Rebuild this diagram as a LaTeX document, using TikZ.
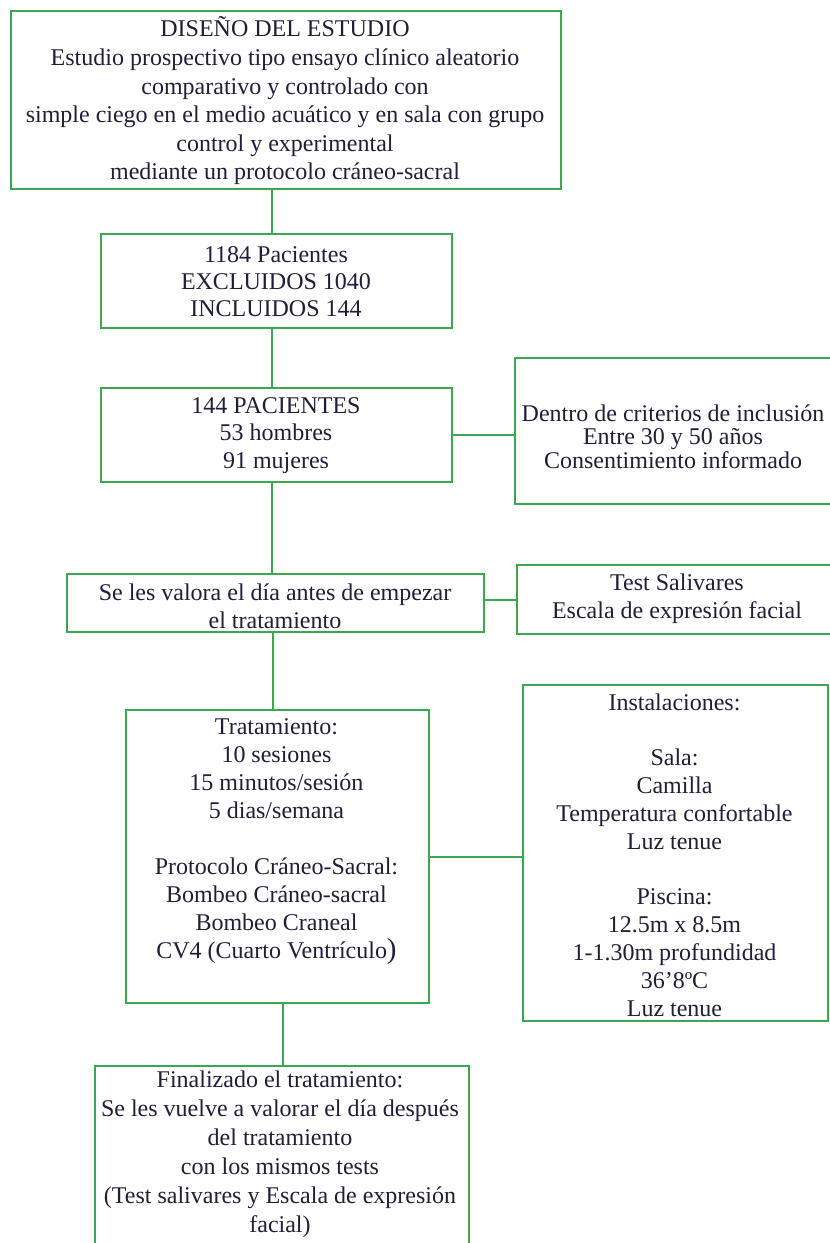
\documentclass[tikz,border=0pt]{standalone}
\usepackage{fontspec}
\setmainfont{Liberation Serif}
\definecolor{frame}{RGB}{58,168,78}
\definecolor{ink}{RGB}{35,30,55}
\begin{document}
\begin{tikzpicture}[x=1pt,y=-1pt,
  box/.style={draw=frame, line width=2.2pt, rectangle, inner sep=0pt, anchor=north west},
  txt/.style={text=ink, align=center, inner sep=0pt, font=\fontsize{24}{#1}\selectfont},
  txt/.default=28,
  link/.style={draw=frame, line width=2.2pt}]
% page area
\clip (0,0) rectangle (830,1243);
\fill[white] (0,0) rectangle (830,1243);

% boxes
\node[box, minimum width=550pt, minimum height=178pt] (b1) at (10,10) {};
\node[box, minimum width=351pt, minimum height=94pt]  (b2) at (100,233) {};
\node[box, minimum width=351pt, minimum height=94pt]  (b3) at (100,387) {};
\node[box, minimum width=320pt, minimum height=146pt] (r1) at (514,357) {};
\node[box, minimum width=417pt, minimum height=58pt]  (b4) at (66,573) {};
\node[box, minimum width=318pt, minimum height=69pt]  (r2) at (516,564) {};
\node[box, minimum width=303pt, minimum height=293pt] (b5) at (125,709) {};
\node[box, minimum width=305pt, minimum height=336pt] (r3) at (522,684) {};
\node[box, minimum width=374pt, minimum height=190pt] (b6) at (94,1065) {};

% columns of the vertical links
\coordinate (colA) at (272,0);
\coordinate (colB) at (273,0);
\coordinate (colC) at (283,0);

% links
\draw[link] (b1.south -| colA) -- (b2.north -| colA);
\draw[link] (b2.south -| colA) -- (b3.north -| colA);
\draw[link] (b3.south -| colA) -- (b4.north -| colA);
\draw[link] (b4.south -| colB) -- (b5.north -| colB);
\draw[link] (b5.south -| colC) -- (b6.north -| colC);
\draw[link] (b3.east) -- (b3.east -| r1.west);
\draw[link] (r2.west) -- (r2.west -| b4.east);
\draw[link] (b5.east) -- (b5.east -| r3.west);

% texts
\node[txt=28.6] (t1) at (285,101) {DISEÑO DEL ESTUDIO\\Estudio prospectivo tipo ensayo clínico aleatorio\\comparativo y controlado con\\simple ciego en el medio acuático y en sala con grupo\\control y experimental\\mediante un protocolo cráneo-sacral};
\node[txt=27] (t2) at (276,282) {1184 Pacientes\\EXCLUIDOS 1040\\INCLUIDOS 144};
\node[txt=27.5] (t3) at (276,435.5) {144 PACIENTES\\53 hombres\\91 mujeres};
\node[txt=23.5] (t4) at (673,436.5) {Dentro de criterios de inclusión\\Entre 30 y 50 años\\Consentimiento informado};
\node[txt=28] (t5) at (275,606) {Se les valora el día antes de empezar\\el tratamiento};
\node[txt=28] (t6) at (677,599) {Test Salivares\\Escala de expresión facial};
\node[txt=28] (t7) at (276.5,841.5) {Tratamiento:\\10 sesiones\\15 minutos/sesión\\5 dias/semana\\[28pt]Protocolo Cráneo-Sacral:\\Bombeo Cráneo-sacral\\Bombeo Craneal\\CV4 (Cuarto Ventrículo{\fontsize{29}{28}\selectfont)}};
\node[txt=27.8] (t8) at (674.5,855) {Instalaciones:\\[27.8pt]Sala:\\Camilla\\Temperatura confortable\\Luz tenue\\[27.8pt]Piscina:\\12.5m x 8.5m\\1-1.30m profundidad\\36’8ºC\\Luz tenue};
\node[txt=29] (t9) at (280,1154.5) {Finalizado el tratamiento:\\Se les vuelve a valorar el día después\\del tratamiento\\con los mismos tests\\(Test salivares y Escala de expresión\\facial)};
\end{tikzpicture}
\end{document}
